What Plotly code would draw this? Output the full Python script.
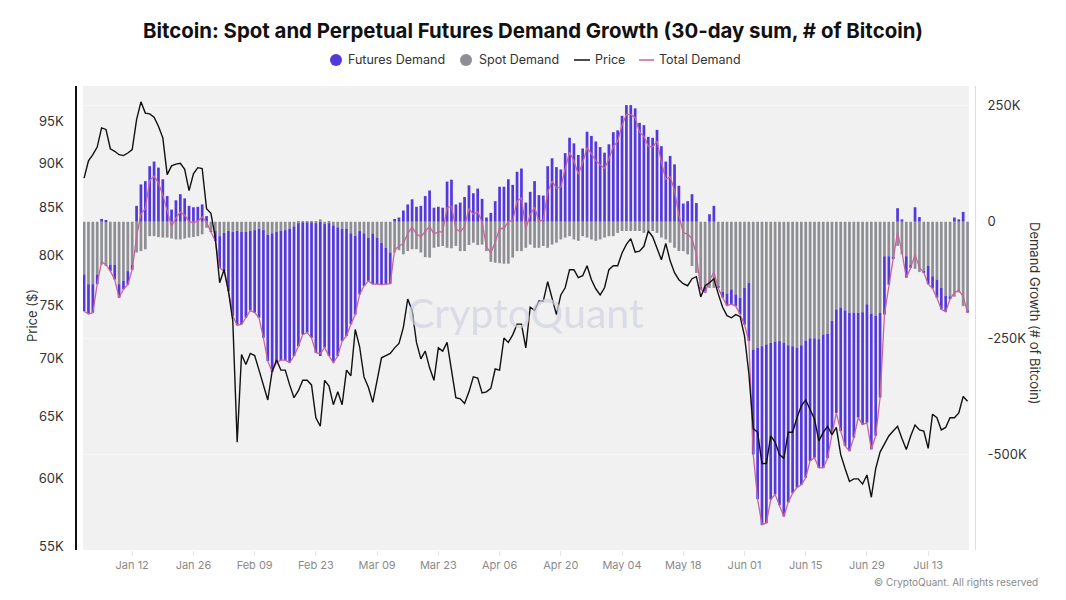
import math
import pandas as pd
import plotly.graph_objects as go

# ---------------- data (daily, 2026-01-01 .. 2026-07-22) ----------------
start_date = "2026-01-01"

price_k = [
    88.3, 90.3, 91.0, 91.9, 94.2, 94.0, 91.7, 91.4, 91.0, 90.9,
    91.2, 91.6, 95.2, 97.4, 96.0, 95.9, 95.5, 94.4, 93.0, 88.7,
    89.7, 89.9, 90.0, 89.3, 86.9, 88.8, 89.5, 89.4, 84.9, 84.4,
    81.8, 77.2, 78.5, 76.4, 73.5, 62.9, 70.4, 69.5, 70.5, 70.3,
    69.0, 67.6, 66.4, 68.9, 69.9, 69.0, 69.0, 67.7, 66.6, 67.2,
    68.1, 68.1, 67.7, 64.9, 64.2, 68.1, 67.6, 66.0, 67.1, 66.0,
    69.0, 68.5, 72.7, 71.1, 68.4, 67.5, 66.2, 68.1, 70.1, 70.3,
    70.5, 71.0, 71.4, 72.9, 75.6, 74.5, 71.5, 70.0, 70.7, 69.2,
    68.1, 71.0, 70.7, 71.5, 68.8, 66.6, 66.5, 66.1, 67.1, 68.4,
    68.3, 67.0, 67.1, 67.4, 69.1, 69.0, 71.9, 71.5, 72.2, 73.2,
    73.2, 71.0, 74.8, 74.5, 75.4, 75.4, 77.3, 75.7, 74.1, 76.0,
    76.7, 78.5, 78.5, 77.7, 77.9, 78.9, 77.5, 76.6, 76.0, 76.7,
    78.5, 78.9, 78.9, 80.2, 81.1, 81.7, 80.3, 80.4, 80.9, 82.5,
    81.9, 80.7, 79.5, 81.2, 79.4, 78.2, 77.5, 77.1, 76.9, 77.6,
    77.8, 75.8, 76.9, 77.2, 77.6, 76.1, 74.8, 74.0, 73.8, 74.1,
    73.9, 72.1, 68.7, 64.0, 63.7, 61.2, 61.2, 63.4, 62.9, 61.9,
    61.6, 63.7, 63.7, 64.9, 65.9, 66.4, 65.6, 64.8, 63.0, 63.7,
    64.2, 63.5, 64.1, 61.9, 60.8, 59.8, 60.0, 60.0, 59.6, 60.3,
    58.6, 60.8, 62.1, 62.8, 63.4, 63.8, 64.2, 63.2, 62.3, 63.4,
    64.3, 63.9, 63.8, 62.4, 65.2, 64.9, 63.9, 64.1, 64.9, 64.9,
    65.3, 66.7, 66.3,
]

futures_k = [
    -79, -64, -61, -21, 6, 3, -14, -32, -29, -18,
    -29, -11, 34, 80, 87, 119, 129, 116, 91, 55,
    26, 46, 59, 50, 34, 31, 32, 37, 12, -2,
    -21, -68, -82, -129, -180, -202, -198, -184, -170, -177,
    -191, -231, -271, -297, -280, -277, -279, -287, -278, -264,
    -240, -236, -247, -278, -288, -265, -285, -294, -276, -241,
    -230, -195, -169, -136, -113, -92, -109, -100, -90, -78,
    -67, 6, 9, 24, 37, 48, 32, 34, 55, 67,
    30, 32, 30, 86, 90, 37, 41, 53, 78, 61,
    71, 49, 9, 19, 44, 75, 75, 91, 79, 107,
    114, 41, 64, 87, 57, 56, 119, 136, 117, 112,
    147, 180, 168, 143, 157, 193, 184, 172, 160, 148,
    166, 192, 196, 227, 250, 250, 243, 212, 207, 182,
    180, 197, 162, 129, 141, 123, 77, 39, 44, 59,
    40, -5, -12, 16, 34, -2, -13, -26, -32, -25,
    -36, -79, -125, -225, -325, -383, -383, -336, -328, -352,
    -372, -337, -315, -300, -299, -294, -263, -256, -276, -286,
    -267, -243, -222, -265, -291, -297, -268, -225, -241, -254,
    -291, -257, -182, -125, -61, -2, 29, 5, -46, -7,
    31, 10, -2, -39, -26, -39, -46, -34, -6, 9,
    5, 21, -5,
]

spot_k = [
    -113, -134, -134, -113, -92, -95, -92, -92, -134, -127,
    -106, -92, -66, -63, -59, -31, -31, -33, -34, -34,
    -36, -38, -38, -36, -34, -33, -31, -27, -13, -20,
    -20, -31, -24, -20, -22, -20, -22, -22, -20, -18,
    -15, -18, -28, -25, -22, -20, -18, -15, -10, -3,
    -2, -2, -2, -3, 5, -5, -3, -8, -12, -15,
    -15, -25, -30, -20, -25, -35, -25, -34, -45, -56,
    -66, -66, -61, -70, -63, -59, -59, -66, -76, -77,
    -56, -54, -52, -56, -57, -52, -63, -63, -50, -45,
    -50, -49, -63, -86, -88, -89, -90, -90, -77, -63,
    -63, -56, -49, -56, -56, -52, -56, -49, -45, -38,
    -34, -31, -38, -41, -31, -34, -38, -41, -38, -34,
    -31, -31, -24, -20, -20, -20, -20, -20, -24, -20,
    -20, -24, -34, -38, -45, -56, -63, -63, -70, -95,
    -110, -140, -140, -142, -142, -140, -150, -154, -145, -156,
    -163, -142, -131, -274, -270, -267, -263, -260, -257, -256,
    -260, -265, -267, -270, -265, -255, -250, -250, -252, -242,
    -240, -213, -188, -184, -190, -195, -195, -195, -194, -177,
    -197, -202, -195, -74, -74, -77, -52, -70, -74, -92,
    -101, -108, -107, -95, -117, -124, -142, -159, -160, -161,
    -152, -181, -190,
]

price_ticks = [55000, 60000, 65000, 70000, 75000, 80000, 85000, 90000, 95000]
price_tick_text = ["55K", "60K", "65K", "70K", "75K", "80K", "85K", "90K", "95K"]
demand_ticks = [-500000, -250000, 0, 250000]
demand_tick_text = ["-500K", "-250K", "0", "250K"]

assert len(price_k) == len(futures_k) == len(spot_k)

dates = pd.date_range(start_date, periods=len(price_k), freq="D")
price = [p * 1000 for p in price_k]
futures = [f * 1000 for f in futures_k]
spot = [s * 1000 for s in spot_k]
total = [f + s for f, s in zip(futures, spot)]

# ---------------- styling ----------------
PURPLE = "#5438dc"
GRAY = "#8e8e95"
PINK = "#c8649c"
FONT = "Inter"

W, H = 1066, 600
ML, MR, MT, MB = 76, 91, 86, 50
PW = W - ML - MR
PH = H - MT - MB


def px(xp):
    return (xp - ML) / PW


def py(yp):
    return (H - MB - yp) / PH


fig = go.Figure()
fig.add_bar(x=dates, y=spot, name="Spot Demand", marker_color=GRAY,
            marker_line_width=0, yaxis="y", showlegend=False)
fig.add_bar(x=dates, y=futures, name="Futures Demand", marker_color=PURPLE,
            marker_line_width=0, yaxis="y", showlegend=False)
fig.add_scatter(x=dates, y=total, name="Total Demand", mode="lines",
                line=dict(color=PINK, width=1.3), yaxis="y", showlegend=False)
fig.add_scatter(x=dates, y=price, name="Price", mode="lines",
                line=dict(color="#111111", width=1.4), yaxis="y2", showlegend=False)

x_left = pd.Timestamp(start_date) - pd.Timedelta(hours=6)
x_right = dates[-1] + pd.Timedelta(hours=8)

fig.update_layout(
    width=W, height=H,
    margin=dict(l=ML, r=MR, t=MT, b=MB),
    paper_bgcolor="white",
    plot_bgcolor="#f1f1f1",
    barmode="relative",
    bargap=0.38,
    font=dict(family=FONT, color="#333333", size=13),
    title=dict(text="<b>Bitcoin: Spot and Perpetual Futures Demand Growth (30-day sum, # of Bitcoin)</b>",
               x=0.5, xref="container", xanchor="center",
               y=1 - 31 / H, yref="container", yanchor="middle",
               font=dict(family=FONT, size=20.4, color="#111111")),
    xaxis=dict(
        type="date",
        domain=[px(83), px(969)],
        range=[x_left, x_right],
        tick0="2026-01-12", dtick=14 * 86400000, tickformat="%b %d",
        showgrid=False, zeroline=False, showline=False,
        ticks="outside", ticklen=5, tickcolor="#e6e6e6",
        tickfont=dict(size=11, color="#8a8a8a"),
    ),
    yaxis=dict(
        side="right", anchor="free", position=1,
        range=[-704000, 291000],
        tickvals=demand_ticks, ticktext=demand_tick_text,
        showgrid=True, gridcolor="#f7f7f7", gridwidth=1,
        zeroline=False,
        showline=True, linecolor="#dddddd", linewidth=1,
        ticks="outside", ticklen=9, tickcolor="rgba(0,0,0,0)",
        tickfont=dict(size=13, color="#333333"),
    ),
    yaxis2=dict(
        overlaying="y", side="left", anchor="free", position=0,
        type="log",
        range=[math.log10(54760), math.log10(99400)],
        tickvals=price_ticks, ticktext=price_tick_text,
        showgrid=False, zeroline=False,
        showline=True, linecolor="#111111", linewidth=1.5,
        ticks="outside", ticklen=9, tickcolor="rgba(0,0,0,0)",
        tickfont=dict(size=13, color="#333333"),
    ),
)

shapes = []
annotations = []

# manual legend
r = 6
for cx, col in [(336, PURPLE), (466, GRAY)]:
    shapes.append(dict(type="circle", xref="paper", yref="paper",
                       x0=px(cx - r), x1=px(cx + r), y0=py(60 + r), y1=py(60 - r),
                       fillcolor=col, line=dict(width=0)))
for x0, x1, col in [(574, 590, "#111111"), (639, 654, PINK)]:
    shapes.append(dict(type="line", xref="paper", yref="paper",
                       x0=px(x0), x1=px(x1), y0=py(60), y1=py(60),
                       line=dict(color=col, width=1.5)))
for tx, label in [(346, "Futures Demand"), (477, "Spot Demand"),
                  (593, "Price"), (657, "Total Demand")]:
    annotations.append(dict(text=label, xref="paper", yref="paper",
                            x=px(tx), y=py(60), xanchor="left", yanchor="middle",
                            showarrow=False, font=dict(size=12.5, color="#333333")))

# axis titles
annotations.append(dict(text="Price ($)", xref="paper", yref="paper",
                        x=px(32), y=py(316), textangle=-90, showarrow=False,
                        xanchor="center", yanchor="middle",
                        font=dict(size=13, color="#333333")))
annotations.append(dict(text="Demand Growth (# of Bitcoin)", xref="paper", yref="paper",
                        x=px(1035), y=py(313), textangle=90, showarrow=False,
                        xanchor="center", yanchor="middle",
                        font=dict(size=13, color="#333333")))

# watermark
annotations.append(dict(text="CryptoQuant", xref="paper", yref="paper",
                        x=px(525), y=py(312), showarrow=False,
                        xanchor="center", yanchor="middle",
                        font=dict(size=41, color="rgba(210,210,224,0.7)", family="Lato")))

# copyright
annotations.append(dict(text="© CryptoQuant. All rights reserved", xref="paper", yref="paper",
                        x=px(1040), y=py(582), showarrow=False,
                        xanchor="right", yanchor="middle",
                        font=dict(size=10, color="#8a8a8a")))

fig.update_layout(shapes=shapes, annotations=annotations)

fig.write_html("out.html",
               config={"displayModeBar": False},
               post_script="document.body.style.margin='0';document.body.style.padding='0';")
